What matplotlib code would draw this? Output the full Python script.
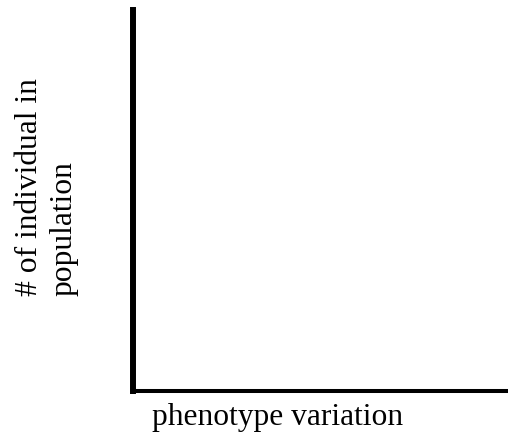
import matplotlib
matplotlib.use("Agg")
import matplotlib.pyplot as plt

# Labels (blank sketch axes, no data series)
x_label = "phenotype variation"
y_label = "# of individual in\npopulation"

W, H = 508, 437
plt.rcParams["font.family"] = ["Liberation Serif", "DejaVu Serif"]

fig = plt.figure(figsize=(W / 100, H / 100), dpi=100)

# Axes box in pixel terms: left spine ~x=133, bottom spine ~y=391, top ~y=7
left, bottom, top = 133, 391, 10
ax = fig.add_axes([left / W, (H - bottom) / H, (W - left) / W, (bottom - top) / H])
ax.set_xlim(0, 1)
ax.set_ylim(0, 1)
ax.set_xticks([])
ax.set_yticks([])
for side in ("top", "right"):
    ax.spines[side].set_visible(False)
ax.spines["left"].set_linewidth(4.3)
ax.spines["bottom"].set_linewidth(2.9)
ax.spines["left"].set_capstyle("projecting")
ax.spines["bottom"].set_capstyle("projecting")

fig.text(152 / W, (H - 425) / H, x_label, fontsize=22.7, ha="left", va="baseline")
fig.text(15 / W, (H - 296) / H, y_label, fontsize=22.7, rotation=90,
         ha="left", va="bottom", multialignment="left", linespacing=1.25)

fig.savefig("out.png", dpi=100)
